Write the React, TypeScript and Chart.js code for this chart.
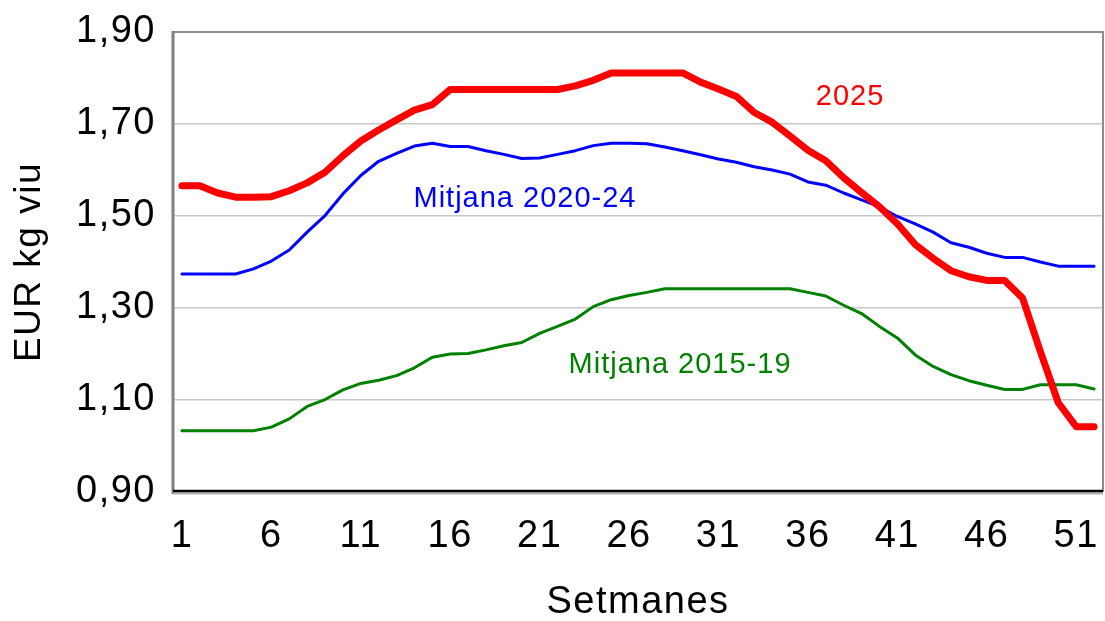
import { useEffect, useRef } from 'react';
import { Chart, registerables } from 'chart.js';

Chart.register(...registerables);

const FONT = '"Liberation Sans", Arial, Helvetica, sans-serif';

const weeks = [
  '1', '2', '3', '4', '5', '6', '7', '8', '9', '10',
  '11', '12', '13', '14', '15', '16', '17', '18', '19', '20',
  '21', '22', '23', '24', '25', '26', '27', '28', '29', '30',
  '31', '32', '33', '34', '35', '36', '37', '38', '39', '40',
  '41', '42', '43', '44', '45', '46', '47', '48', '49', '50',
  '51', '52',
];

const xTickLabels = ['1', '6', '11', '16', '21', '26', '31', '36', '41', '46', '51'];
const yTickLabels = ['0,90', '1,10', '1,30', '1,50', '1,70', '1,90'];

const series2025 = [
  1.566, 1.566, 1.550, 1.541, 1.541, 1.542, 1.555, 1.572, 1.595, 1.631,
  1.663, 1.687, 1.709, 1.730, 1.742, 1.775, 1.775, 1.775, 1.775, 1.775,
  1.775, 1.775, 1.783, 1.795, 1.811, 1.811, 1.811, 1.811, 1.811, 1.791,
  1.776, 1.760, 1.725, 1.704, 1.674, 1.643, 1.620, 1.583, 1.551, 1.520,
  1.483, 1.438, 1.408, 1.381, 1.368, 1.360, 1.360, 1.322, 1.205, 1.094,
  1.042, 1.042,
];

const mitjana2020_24 = [
  1.374, 1.374, 1.374, 1.374, 1.385, 1.402, 1.426, 1.465, 1.501, 1.548,
  1.588, 1.619, 1.636, 1.652, 1.658, 1.651, 1.651, 1.642, 1.634, 1.625,
  1.626, 1.634, 1.642, 1.653, 1.658, 1.658, 1.657, 1.650, 1.642, 1.633,
  1.624, 1.617, 1.607, 1.600, 1.591, 1.574, 1.567, 1.550, 1.535, 1.520,
  1.499, 1.483, 1.465, 1.442, 1.432, 1.419, 1.410, 1.410, 1.400, 1.391,
  1.391, 1.391,
];

const mitjana2015_19 = [
  1.033, 1.033, 1.033, 1.033, 1.033, 1.041, 1.059, 1.086, 1.101, 1.122,
  1.136, 1.143, 1.153, 1.170, 1.193, 1.200, 1.201, 1.209, 1.218, 1.225,
  1.245, 1.260, 1.276, 1.303, 1.318, 1.327, 1.334, 1.342, 1.342, 1.342,
  1.342, 1.342, 1.342, 1.342, 1.342, 1.334, 1.326, 1.306, 1.288, 1.260,
  1.235, 1.198, 1.173, 1.155, 1.142, 1.132, 1.123, 1.123, 1.133, 1.133,
  1.133, 1.124,
];

// in-chart labels: [text, colour, x (category index), y (value)]
const seriesLabels: [string, string, number, number][] = [
  ['2025', '#ff0000', 37.36, 1.759],
  ['Mitjana 2020-24', '#0000ff', 19.18, 1.538],
  ['Mitjana 2015-19', '#008000', 27.85, 1.1755],
];

export default function App() {
  const ref = useRef<HTMLCanvasElement>(null);

  useEffect(() => {
    if (!ref.current) return;

    const spacingPlugin = {
      id: 'spacing',
      beforeUpdate(chart: any) {
        chart.ctx.letterSpacing = '1.5px';
      },
      beforeDraw(chart: any) {
        chart.ctx.letterSpacing = '1.5px';
      },
    };

    const framePlugin = {
      id: 'frame',
      beforeDatasetsDraw(chart: any) {
        const { ctx, chartArea: a } = chart;
        ctx.save();
        ctx.strokeStyle = '#8c8c8c';
        ctx.lineWidth = 2;
        ctx.beginPath();
        ctx.moveTo(a.left, a.top);
        ctx.lineTo(a.right, a.top);
        ctx.lineTo(a.right, a.bottom);
        ctx.stroke();
        // left axis
        ctx.lineWidth = 3;
        ctx.strokeStyle = '#808080';
        ctx.beginPath();
        ctx.moveTo(a.left, a.top - 1);
        ctx.lineTo(a.left, a.bottom + 2);
        ctx.stroke();
        // bottom axis
        ctx.strokeStyle = '#b0b0b0';
        ctx.lineWidth = 2;
        ctx.beginPath();
        ctx.moveTo(a.left, a.bottom + 1.5);
        ctx.lineTo(a.right, a.bottom + 1.5);
        ctx.stroke();
        ctx.strokeStyle = '#000000';
        ctx.lineWidth = 2.5;
        ctx.beginPath();
        ctx.moveTo(a.left, a.bottom - 1);
        ctx.lineTo(a.right, a.bottom - 1);
        ctx.stroke();
        ctx.restore();
      },
      afterDatasetsDraw(chart: any) {
        const { ctx } = chart;
        const xs = chart.scales.x;
        const ys = chart.scales.y;
        ctx.save();
        ctx.letterSpacing = '1px';
        ctx.font = `29px ${FONT}`;
        ctx.textAlign = 'center';
        ctx.textBaseline = 'middle';
        for (const [text, color, xi, yv] of seriesLabels) {
          ctx.fillStyle = color;
          ctx.fillText(text, xs.getPixelForValue(xi), ys.getPixelForValue(yv));
        }
        ctx.restore();
      },
    };

    const chart = new Chart(ref.current, {
      type: 'line',
      data: {
        labels: weeks,
        datasets: [
          {
            label: '2025',
            data: series2025,
            borderColor: '#ff0000',
            backgroundColor: '#ff0000',
            borderWidth: 7,
            pointRadius: 0,
            tension: 0,
            borderCapStyle: 'round',
            borderJoinStyle: 'round',
          },
          {
            label: 'Mitjana 2020-24',
            data: mitjana2020_24,
            borderColor: '#0000ff',
            backgroundColor: '#0000ff',
            borderWidth: 3,
            pointRadius: 0,
            tension: 0,
            borderCapStyle: 'round',
            borderJoinStyle: 'round',
          },
          {
            label: 'Mitjana 2015-19',
            data: mitjana2015_19,
            borderColor: '#008000',
            backgroundColor: '#008000',
            borderWidth: 3,
            pointRadius: 0,
            tension: 0,
            borderCapStyle: 'round',
            borderJoinStyle: 'round',
          },
        ],
      },
      options: {
        animation: false,
        responsive: false,
        maintainAspectRatio: false,
        layout: { padding: { top: 32, right: 2, left: 2, bottom: 0 } },
        plugins: {
          legend: { display: false },
          tooltip: { enabled: false },
        },
        scales: {
          x: {
            type: 'category',
            offset: true,
            grid: { display: false, drawTicks: false },
            border: { display: false },
            ticks: {
              autoSkip: false,
              maxRotation: 0,
              minRotation: 0,
              padding: 22,
              color: '#000000',
              font: { family: FONT, size: 38 },
              callback: (_v: any, i: number) =>
                xTickLabels.includes(weeks[i]) ? weeks[i] : '',
            },
            title: {
              display: true,
              text: 'Setmanes',
              color: '#000000',
              font: { family: FONT, size: 38 },
              padding: { top: 0, bottom: -4 },
            },
            afterFit: (s: any) => {
              s.height = 129;
              s.paddingLeft = 0;
              s.paddingRight = 0;
            },
          },
          y: {
            min: 0.9,
            max: 1.9,
            grid: { color: '#c8c8c8', lineWidth: 1.5, drawTicks: false },
            border: { display: false },
            ticks: {
              stepSize: 0.1,
              padding: 17,
              color: '#000000',
              font: { family: FONT, size: 38 },
              callback: (v: any) => {
                const s = Number(v).toFixed(2).replace('.', ',');
                return yTickLabels.includes(s) ? s : '';
              },
            },
            title: {
              display: true,
              text: 'EUR kg viu',
              color: '#000000',
              font: { family: FONT, size: 37 },
              padding: { top: 6, bottom: 0 },
            },
            afterFit: (s: any) => {
              s.width = 171;
              s.paddingTop = 0;
              s.paddingBottom = 0;
            },
          },
        },
      },
      plugins: [spacingPlugin, framePlugin],
    } as any);

    return () => chart.destroy();
  }, []);

  return (
    <div style={{ position: 'fixed', left: 0, top: 0, width: 1105, height: 621, background: '#ffffff' }}>
      <canvas ref={ref} width={1105} height={621} style={{ display: 'block' }} />
    </div>
  );
}
